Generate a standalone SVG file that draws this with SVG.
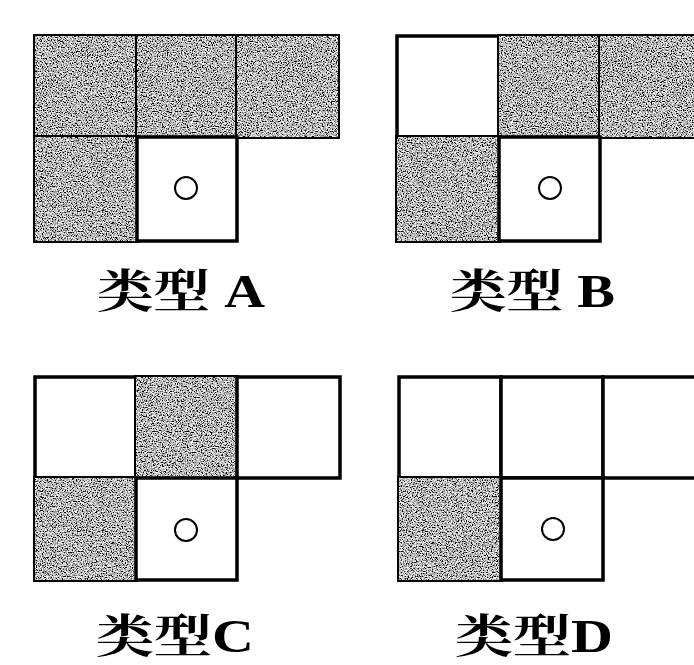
<svg xmlns="http://www.w3.org/2000/svg" width="694" height="665" viewBox="0 0 694 665">
<style>
  .cell { fill: #ffffff; stroke: #000; stroke-width: 3.5; }
  .shade { fill: #8f8f8f; stroke: #000; stroke-width: 4; filter: url(#speck); }
  .mark { fill: none; stroke: #000; stroke-width: 2; }
  .label { font-family: "Liberation Serif", "Noto Serif CJK SC", "Noto Sans CJK SC", serif; font-size: 46px; font-weight: 700; fill: #000; }
</style>
<defs>
  <filter id="speck" x="-5%" y="-5%" width="110%" height="110%">
    <feTurbulence type="fractalNoise" baseFrequency="0.8" numOctaves="2" seed="7" result="n"/>
    <feColorMatrix in="n" type="matrix" values="3 0 0 0 -1.02  3 0 0 0 -1.02  3 0 0 0 -1.02  0 0 0 0 1" result="g"/>
    <feComposite in="g" in2="SourceGraphic" operator="in" result="tex"/>
    <feMorphology in="SourceGraphic" operator="erode" radius="2" result="inner"/>
    <feComposite in="SourceGraphic" in2="inner" operator="out" result="edge"/>
    <feFlood flood-color="#000" result="blk"/>
    <feComposite in="blk" in2="edge" operator="in" result="border"/>
    <feMerge><feMergeNode in="tex"/><feMergeNode in="border"/></feMerge>
  </filter>
</defs>
<rect width="694" height="665" fill="#fff"/>

<g id="typeA">
  <rect class="shade" x="35" y="36" width="102" height="101"/>
  <rect class="shade" x="137" y="36" width="100" height="101"/>
  <rect class="shade" x="237" y="36" width="101" height="101"/>
  <rect class="shade" x="35" y="137" width="102" height="104"/>
  <rect class="cell" x="137" y="137" width="100" height="104"/>
  <circle class="mark" cx="186" cy="188" r="11"/>
  <text class="label" x="97" y="307" textLength="168" lengthAdjust="spacingAndGlyphs">类型 A</text>
</g>

<g id="typeB">
  <rect class="cell" x="397" y="36" width="102" height="101"/>
  <rect class="shade" x="499" y="36" width="101" height="101"/>
  <rect class="shade" x="600" y="36" width="100" height="101"/>
  <rect class="shade" x="397" y="137" width="102" height="104"/>
  <rect class="cell" x="499" y="137" width="101" height="104"/>
  <circle class="mark" cx="550" cy="188" r="11"/>
  <text class="label" x="450" y="307" textLength="165" lengthAdjust="spacingAndGlyphs">类型 B</text>
</g>

<g id="typeC">
  <rect class="cell" x="35" y="377" width="101" height="101"/>
  <rect class="shade" x="136" y="377" width="101" height="101"/>
  <rect class="cell" x="237" y="377" width="103" height="101"/>
  <rect class="shade" x="35" y="478" width="101" height="102"/>
  <rect class="cell" x="136" y="478" width="101" height="102"/>
  <circle class="mark" cx="186" cy="530" r="11"/>
  <text class="label" x="96" y="652" textLength="158" lengthAdjust="spacingAndGlyphs">类型C</text>
</g>

<g id="typeD">
  <rect class="cell" x="399" y="377" width="102" height="101"/>
  <rect class="cell" x="501" y="377" width="102" height="101"/>
  <rect class="cell" x="603" y="377" width="100" height="101"/>
  <rect class="shade" x="399" y="478" width="102" height="102"/>
  <rect class="cell" x="501" y="478" width="102" height="102"/>
  <circle class="mark" cx="553" cy="529" r="11"/>
  <text class="label" x="455" y="652" textLength="158" lengthAdjust="spacingAndGlyphs">类型D</text>
</g>
</svg>
